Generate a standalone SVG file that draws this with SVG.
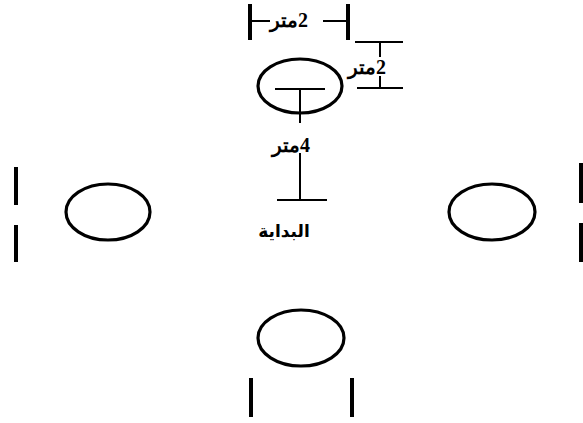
<svg xmlns="http://www.w3.org/2000/svg" width="583" height="423" viewBox="0 0 583 423">
<style>
.cone{fill:none;stroke:#000;stroke-width:3.2}
.bar{stroke:#000;stroke-width:4;stroke-linecap:butt}
.ln{stroke:#000;stroke-width:2;fill:none}
.lbl{font-family:"Liberation Serif","DejaVu Serif",serif;font-weight:bold;font-size:20px;fill:#000}
.ar{font-family:"DejaVu Sans","Noto Sans",sans-serif;font-weight:bold;font-size:17px;fill:#000}
</style>
<rect width="583" height="423" fill="#fff"/>
<g id="cone-top">
<ellipse class="cone" cx="300" cy="86" rx="42" ry="27"/>
</g>
<g id="cone-left">
<ellipse class="cone" cx="108" cy="212" rx="42" ry="28"/>
<line class="bar" x1="16" y1="167" x2="16" y2="205"/>
<line class="bar" x1="16" y1="225" x2="16" y2="262"/>
</g>
<g id="cone-right">
<ellipse class="cone" cx="492" cy="212" rx="43" ry="28"/>
<line class="bar" x1="581" y1="163" x2="581" y2="203"/>
<line class="bar" x1="581" y1="223" x2="581" y2="262"/>
</g>
<g id="cone-bottom">
<ellipse class="cone" cx="301" cy="338" rx="43" ry="28"/>
<line class="bar" x1="251" y1="378" x2="251" y2="417"/>
<line class="bar" x1="352" y1="378" x2="352" y2="417"/>
</g>
<g id="start">
<line class="ln" x1="277" y1="200" x2="327" y2="200"/>
<text class="ar" x="284" y="237" text-anchor="middle" direction="rtl">البداية</text>
</g>
<g id="connectors">
<g id="dim-top">
<line class="bar" x1="250" y1="4" x2="250" y2="40"/>
<line class="ln" x1="250" y1="21" x2="270" y2="21"/>
<line class="ln" x1="323" y1="21" x2="348" y2="21"/>
<line class="bar" x1="348" y1="4" x2="348" y2="40"/>
<text class="lbl" x="289" y="27" text-anchor="middle" direction="rtl">2متر</text>
</g>
<g id="dim-right">
<line class="ln" x1="355" y1="42" x2="403" y2="42"/>
<line class="ln" x1="380" y1="42" x2="380" y2="57"/>
<text class="lbl" x="367" y="74" text-anchor="middle" direction="rtl">2متر</text>
<line class="ln" x1="380" y1="76" x2="380" y2="88"/>
<line class="ln" x1="357" y1="88" x2="403" y2="88"/>
</g>
<g id="dim-center">
<line class="ln" x1="275" y1="89" x2="325" y2="89"/>
<line class="ln" x1="300" y1="89" x2="300" y2="123"/>
<text class="lbl" x="291" y="152" text-anchor="middle" direction="rtl">4متر</text>
<line class="ln" x1="300" y1="153" x2="300" y2="200"/>
</g>
</g>
</svg>
